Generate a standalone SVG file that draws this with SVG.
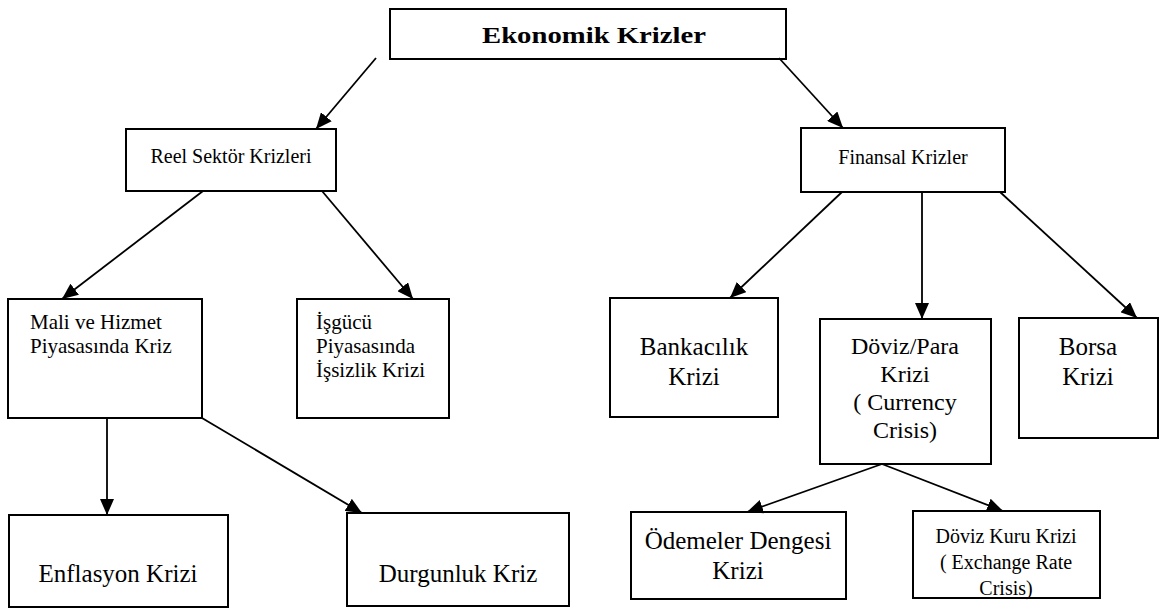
<svg xmlns="http://www.w3.org/2000/svg" width="1166" height="611" viewBox="0 0 1166 611">
<style>
.box{fill:#fff;stroke:#000;stroke-width:2}
.t{font-family:"Liberation Serif","Times New Roman",serif;fill:#000}
.c{text-anchor:middle}
.conn line{stroke:#000;stroke-width:1.8;marker-end:url(#ah)}
</style>
<defs>
<marker id="ah" viewBox="0 0 16 14" refX="16" refY="7" markerWidth="16" markerHeight="14" markerUnits="userSpaceOnUse" orient="auto">
<path d="M0,0 L16,7 L0,14 Z" fill="#000"/>
</marker>
</defs>
<rect width="1166" height="611" fill="#fff"/>
<g id="ekonomik"><rect class="box" x="390" y="9" width="396" height="50"/><text class="t c" x="594" y="43" font-size="24" font-weight="bold" textLength="224" lengthAdjust="spacingAndGlyphs">Ekonomik Krizler</text></g>
<g id="reel"><rect class="box" x="126" y="129" width="210" height="62"/><text class="t c" x="231" y="163" font-size="20">Reel Sektör Krizleri</text></g>
<g id="finansal"><rect class="box" x="801" y="128" width="204" height="64"/><text class="t c" x="903" y="164" font-size="20">Finansal Krizler</text></g>
<g id="mali"><rect class="box" x="8" y="299" width="194" height="119"/><text class="t" x="30" y="329" font-size="21">Mali ve Hizmet</text><text class="t" x="30" y="353" font-size="21">Piyasasında Kriz</text></g>
<g id="isgucu"><rect class="box" x="297" y="299" width="152" height="119"/><text class="t" x="316" y="329" font-size="21">İşgücü</text><text class="t" x="316" y="353" font-size="21">Piyasasında</text><text class="t" x="316" y="377" font-size="21">İşsizlik Krizi</text></g>
<g id="bankacilik"><rect class="box" x="610" y="298" width="168" height="119"/><text class="t c" x="694" y="355" font-size="25">Bankacılık</text><text class="t c" x="694" y="385" font-size="25">Krizi</text></g>
<g id="doviz"><rect class="box" x="820" y="319" width="171" height="145"/><text class="t c" x="905" y="354" font-size="24">Döviz/Para</text><text class="t c" x="905" y="382" font-size="24">Krizi</text><text class="t c" x="905" y="410" font-size="24">( Currency</text><text class="t c" x="905" y="438" font-size="24">Crisis)</text></g>
<g id="borsa"><rect class="box" x="1019" y="318" width="139" height="120"/><text class="t c" x="1088" y="355" font-size="25">Borsa</text><text class="t c" x="1088" y="385" font-size="25">Krizi</text></g>
<g id="odemeler"><rect class="box" x="631" y="512" width="215" height="87"/><text class="t c" x="738" y="549" font-size="25">Ödemeler Dengesi</text><text class="t c" x="738" y="579" font-size="25">Krizi</text></g>
<g id="dovizkuru"><rect class="box" x="913" y="511" width="187" height="87"/><text class="t c" x="1006" y="543" font-size="20">Döviz Kuru Krizi</text><text class="t c" x="1006" y="569" font-size="20">( Exchange Rate</text><text class="t c" x="1006" y="595" font-size="20">Crisis)</text></g>
<g id="enflasyon"><rect class="box" x="9" y="515" width="219" height="92"/><text class="t c" x="118" y="582" font-size="25">Enflasyon Krizi</text></g>
<g id="durgunluk"><rect class="box" x="347" y="513" width="222" height="93"/><text class="t c" x="458" y="582" font-size="25">Durgunluk Kriz</text></g>
<g id="connectors" class="conn">
<line x1="376" y1="58" x2="316" y2="129"/>
<line x1="779" y1="58" x2="843" y2="128"/>
<line x1="203" y1="191" x2="62" y2="299"/>
<line x1="322" y1="191" x2="413" y2="299"/>
<line x1="842" y1="192" x2="730" y2="298"/>
<line x1="922" y1="192" x2="922" y2="319"/>
<line x1="1000" y1="192" x2="1137" y2="318"/>
<line x1="107" y1="418" x2="107" y2="515"/>
<line x1="202" y1="418" x2="362" y2="513"/>
<line x1="882" y1="464" x2="747" y2="512"/>
<line x1="882" y1="464" x2="1003" y2="511"/>
</g>
</svg>
